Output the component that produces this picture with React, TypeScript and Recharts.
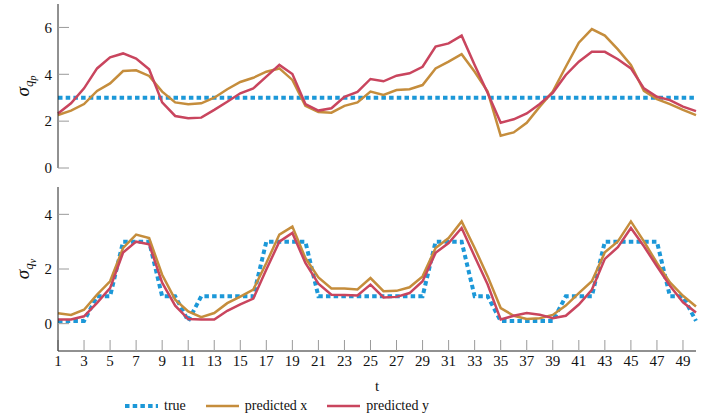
import { CartesianGrid, Legend, Line, LineChart, XAxis, YAxis } from 'recharts';

const BLUE = '#1c98d8';
const GOLD = '#c58d3c';
const RED = '#c9455e';
const FONT = 'Liberation Serif';

const X_TICKS = [1, 3, 5, 7, 9, 11, 13, 15, 17, 19, 21, 23, 25, 27, 29, 31, 33, 35, 37, 39, 41, 43, 45, 47, 49];
const QP_TICKS = [0, 2, 4, 6];
const QV_TICKS = [0, 2, 4];

// sigma_qp panel
const qpTrue = [
  3, 3, 3, 3, 3, 3, 3, 3, 3, 3, 3, 3, 3, 3, 3, 3, 3, 3, 3, 3, 3, 3, 3, 3, 3,
  3, 3, 3, 3, 3, 3, 3, 3, 3, 3, 3, 3, 3, 3, 3, 3, 3, 3, 3, 3, 3, 3, 3, 3, 3,
];
const qpPredX = [
  2.26, 2.45, 2.73, 3.29, 3.61, 4.14, 4.17, 3.93, 3.26, 2.8, 2.72, 2.76, 3.0, 3.36, 3.67, 3.85, 4.11, 4.25, 3.76, 2.65,
  2.39, 2.36, 2.65, 2.8, 3.26, 3.12, 3.33, 3.36, 3.54, 4.25, 4.54, 4.86, 4.11, 3.26, 1.38, 1.52, 1.93, 2.62, 3.26, 4.32,
  5.35, 5.93, 5.65, 5.06, 4.4, 3.29, 2.94, 2.73, 2.48, 2.26,
];
const qpPredY = [
  2.33, 2.76, 3.4, 4.25, 4.72, 4.89, 4.67, 4.21, 2.8, 2.22, 2.12, 2.15, 2.48, 2.83, 3.19, 3.4, 3.9, 4.4, 4.01, 2.73,
  2.45, 2.55, 3.04, 3.25, 3.8, 3.7, 3.94, 4.04, 4.32, 5.18, 5.32, 5.65, 4.4, 3.2, 1.93, 2.08, 2.33, 2.73, 3.21, 3.97,
  4.54, 4.96, 4.96, 4.64, 4.25, 3.4, 3.04, 2.9, 2.62, 2.43,
];

// sigma_qv panel
const qvTrue = [
  0.1, 0.1, 0.1, 1, 1, 3, 3, 3, 1, 1, 0.1, 1, 1, 1, 1, 1, 3, 3, 3, 3,
  1, 1, 1, 1, 1, 1, 1, 1, 1, 3, 3, 3, 1, 1, 0.1, 0.1, 0.1, 0.1, 0.1, 1,
  1, 1, 3, 3, 3, 3, 3, 1, 1, 0.1,
];
const qvPredX = [
  0.38, 0.32, 0.51, 1.06, 1.55, 2.77, 3.26, 3.13, 1.79, 0.88, 0.45, 0.24, 0.39, 0.75, 0.99, 1.25, 2.22, 3.26, 3.55, 2.4,
  1.69, 1.29, 1.29, 1.25, 1.67, 1.19, 1.2, 1.33, 1.73, 2.77, 3.13, 3.74, 2.77, 1.73, 0.57, 0.29, 0.17, 0.2, 0.32, 0.66,
  1.12, 1.55, 2.61, 3.01, 3.74, 3.01, 2.22, 1.51, 1.02, 0.63,
];
const qvPredY = [
  0.15, 0.15, 0.27, 0.76, 1.3, 2.6, 3.0, 2.9, 1.5, 0.66, 0.17, 0.15, 0.15, 0.47, 0.71, 0.92, 1.98, 3.0, 3.32, 2.22,
  1.46, 1.06, 1.05, 1.03, 1.43, 0.96, 0.98, 1.12, 1.55, 2.59, 2.95, 3.5, 2.46, 1.43, 0.15, 0.29, 0.39, 0.33, 0.2, 0.29,
  0.7, 1.24, 2.37, 2.8, 3.5, 2.83, 2.1, 1.39, 0.78, 0.41,
];

const SERIES = [
  { key: 'truth', name: 'true', color: BLUE, width: 4, dash: '4.5 3.2' },
  { key: 'predX', name: 'predicted x', color: GOLD, width: 2.5, dash: undefined },
  { key: 'predY', name: 'predicted y', color: RED, width: 2.5, dash: undefined },
];

const build = (truth: number[], px: number[], py: number[]) =>
  truth.map((v, i) => ({ t: i + 1, truth: v, predX: px[i], predY: py[i] }));

const qpData = build(qpTrue, qpPredX, qpPredY);
const qvData = build(qvTrue, qvPredX, qvPredY);

function SigmaLabel(props: any) {
  const { viewBox, sub } = props;
  const cy = viewBox.y + viewBox.height / 2;
  return (
    <text
      transform={`translate(29,${cy}) rotate(-90)`}
      textAnchor="middle"
      style={{ fontFamily: FONT, fontStyle: 'italic' }}
      fill="#111"
    >
      <tspan fontSize={19}>σ</tspan>
      <tspan fontSize={13} dy={4}>q</tspan>
      <tspan fontSize={10} dy={3}>{sub}</tspan>
    </text>
  );
}

function LegendBox() {
  return (
    <div
      style={{
        height: 29,
        display: 'flex',
        alignItems: 'center',
        paddingLeft: 125,
        fontFamily: FONT,
        fontSize: 14,
        color: '#111',
      }}
    >
      {SERIES.map((s) => (
        <div key={s.key} style={{ display: 'flex', alignItems: 'center', marginRight: 20 }}>
          <svg width={33} height={8}>
            <line
              x1={0}
              y1={4}
              x2={33}
              y2={4}
              stroke={s.color}
              strokeWidth={s.width}
              strokeDasharray={s.dash}
            />
          </svg>
          <span style={{ marginLeft: 6 }}>{s.name}</span>
        </div>
      ))}
    </div>
  );
}

const tickStyle = { fontSize: 15, fill: '#111', style: { fontFamily: FONT } };
const tickLine = { stroke: '#9a9a9a' };
const axisLine = { stroke: '#222' };
const TICK = -11;

function Panel({ data, domain, ticks, sub, bottom }: any) {
  return (
    <LineChart
      width={710}
      height={bottom ? 248 : 190}
      data={data}
      style={{ position: 'absolute', left: 0, top: bottom ? 172 : 0 }}
      margin={bottom ? { top: 15, right: 14, bottom: 0, left: 0 } : { top: 4, right: 14, bottom: 22, left: 0 }}
    >
      <CartesianGrid stroke="none" />
      <XAxis
        dataKey="t"
        type="number"
        domain={[1, 50]}
        ticks={X_TICKS}
        interval={0}
        height={bottom ? 40 : 0}
        tick={bottom ? tickStyle : false}
        tickSize={TICK}
        tickMargin={15}
        tickLine={tickLine}
        axisLine={axisLine}
        label={bottom ? { value: 't', position: 'insideBottom', offset: 0, fontSize: 15, style: { fontFamily: FONT }, fill: '#111' } : undefined}
      />
      <XAxis
        xAxisId="top"
        orientation="top"
        dataKey="t"
        type="number"
        domain={[1, 50]}
        ticks={X_TICKS}
        interval={0}
        height={0}
        tick={false}
        tickSize={TICK}
        tickLine={tickLine}
        axisLine={axisLine}
      />
      <YAxis
        type="number"
        domain={domain}
        ticks={ticks}
        interval={0}
        width={58}
        tick={tickStyle}
        tickSize={TICK}
        tickMargin={17}
        tickLine={tickLine}
        axisLine={axisLine}
        label={{ content: (p: any) => <SigmaLabel {...p} sub={sub} /> }}
      />
      <YAxis
        yAxisId="r"
        orientation="right"
        type="number"
        domain={domain}
        ticks={ticks}
        interval={0}
        width={0}
        tick={false}
        tickSize={TICK}
        tickLine={tickLine}
        axisLine={axisLine}
      />
      {SERIES.map((s) => (
        <Line
          key={s.key}
          dataKey={s.key}
          name={s.name}
          stroke={s.color}
          strokeWidth={s.width}
          strokeDasharray={s.dash}
          dot={false}
          activeDot={false}
          isAnimationActive={false}
        />
      ))}
      {bottom && (
        <Legend verticalAlign="bottom" content={() => <LegendBox />} wrapperStyle={{ left: 0, width: 710, bottom: 0 }} />
      )}
    </LineChart>
  );
}

export default function App() {
  return (
    <div style={{ position: 'absolute', left: 0, top: 0, width: 710, height: 420, background: '#fff' }}>
      <Panel data={qpData} domain={[0, 7]} ticks={QP_TICKS} sub="p" />
      <Panel data={qvData} domain={[-1, 5]} ticks={QV_TICKS} sub="v" bottom />
    </div>
  );
}
